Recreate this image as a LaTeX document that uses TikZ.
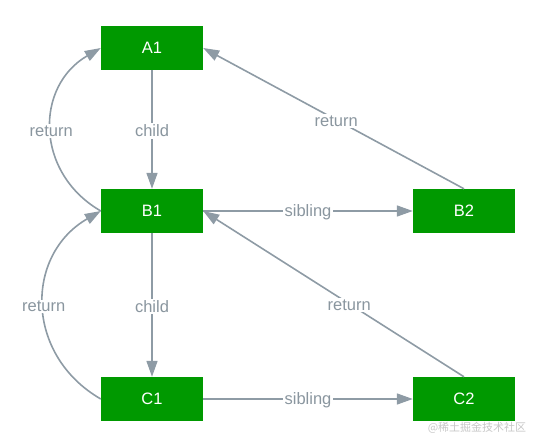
\documentclass[tikz,border=0pt]{standalone}
\usepackage{fontspec}
\setmainfont{Liberation Sans}
\newfontfamily\cjkfont{Noto Sans CJK SC}
\usepackage{tikz}
\usetikzlibrary{positioning,arrows.meta}
\definecolor{fibergreen}{HTML}{009900}
\definecolor{linkgray}{HTML}{8E9BA5}
\definecolor{labelgray}{HTML}{8A969F}

\begin{document}
\begin{tikzpicture}[
  x=1pt, y=-1pt,
  fiber/.style={draw=none, fill=fibergreen, text=white, minimum width=102pt,
    minimum height=44pt, inner sep=0pt, font=\fontsize{16.5}{18}\selectfont},
  link/.style={-{Triangle[length=16pt,width=11pt]}, draw=linkgray, line width=1.6pt},
  lbl/.style={fill=white, text=labelgray, inner sep=1.5pt, yshift=-1.5pt,
    font=\fontsize{16.5}{18}\selectfont}
]
  \useasboundingbox (0,0) rectangle (541,447);

  % Fiber nodes
  \node[fiber] (A1) at (152,48) {A1};
  \node[fiber] (B1) at (152,211) {B1};
  \node[fiber] (B2) at (464,211) {B2};
  \node[fiber] (C1) at (152,399) {C1};
  \node[fiber] (C2) at (464,399) {C2};

  % child links
  \draw[link] (A1) -- node[lbl] {child} (B1);
  \draw[link] (B1) -- node[lbl] {child} (C1);

  % sibling links
  \draw[link] (B1) -- node[lbl] {sibling} (B2);
  \draw[link] (C1) -- node[lbl] {sibling} (C2);

  % return links
  \draw[link] (B1.west) to[out=150, in=210, looseness=1.2]
    node[lbl] {return} (A1.west);
  \draw[link] (C1.west) to[out=150, in=210, looseness=1.2]
    node[lbl] {return} (B1.west);
  \draw[link] (B2.north) -- node[lbl, pos=0.49] {return} (A1.east);
  \draw[link] (C2.north) -- node[lbl, pos=0.44] {return} (B1.east);

  % watermark
  \node[text=black!22, font=\cjkfont\fontsize{11}{13}\selectfont] (mark)
    at (477,428) {@稀土掘金技术社区};
\end{tikzpicture}
\end{document}
